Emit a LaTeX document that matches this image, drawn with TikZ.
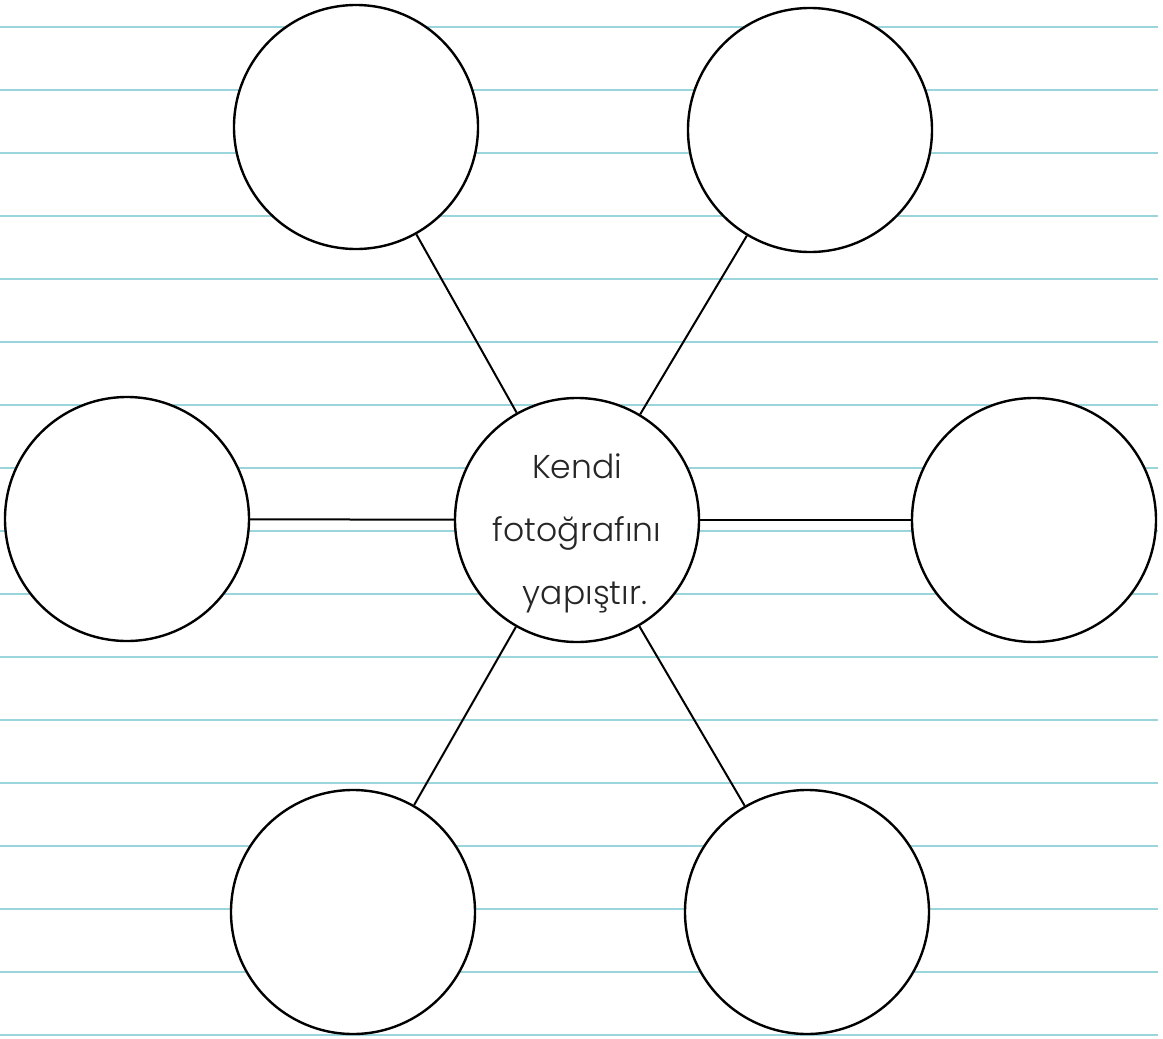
\documentclass[tikz,border=0pt]{standalone}
\usepackage{fontspec}
\setmainfont{Poppins}
\newfontfamily\lightfont{Poppins Light}
\definecolor{ruleline}{HTML}{99D5DB}
\begin{document}
\begin{tikzpicture}[x=1pt,y=-1pt,
  bubble/.style={circle,draw=black,line width=2.4pt,fill=white,minimum size=244pt,inner sep=0pt},
  link/.style={draw=black,line width=2pt},
  rule/.style={draw=ruleline,line width=1.6pt},
  label/.style={font=\lightfont\fontsize{33}{63}\selectfont,text=black!85,anchor=base}]
\useasboundingbox (0,0) rectangle (1163,1039);
\foreach \k in {0,...,16}{
  \draw[rule] (0,{27+63*\k}) -- (1158,{27+63*\k});
}
\node[bubble] (c) at (577,520) {};
\node[bubble] (tl) at (356,127) {};
\node[bubble] (tr) at (810,130) {};
\node[bubble] (l) at (127,519) {};
\node[bubble] (r) at (1034,520) {};
\node[bubble] (bl) at (353,912) {};
\node[bubble] (br) at (807,912) {};
\draw[link] (c) -- (tl);
\draw[link] (c) -- (tr);
\draw[link] (c) -- (l);
\draw[link] (c) -- (r);
\draw[link] (c) -- (bl);
\draw[link] (c) -- (br);
\node[label] (t1) at (577,478) {Kendi};
\node[label] (t2) at (577,541) {fotoğrafını};
\node[label] (t3) at (585,604) {yapıştır.};
\end{tikzpicture}
\end{document}
